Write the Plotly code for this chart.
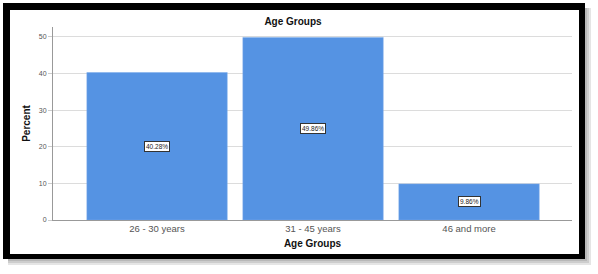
import plotly.graph_objects as go

categories = ["26 - 30 years", "31 - 45 years", "46 and more"]
percent = [40.28, 49.86, 9.86]
labels = ["40.28%", "49.86%", "9.86%"]
y_ticks = [0, 10, 20, 30, 40, 50]

W, H = 598, 274
ML, MR, MT, MB = 53, 26, 27, 54
PW, PH = W - ML - MR, H - MT - MB

def px(x):
    return (x - ML) / PW

def py(y):
    return 1 - (y - MT) / PH

fig = go.Figure()
fig.add_trace(go.Bar(
    x=list(range(len(categories))), y=percent,
    marker=dict(color="#5593E3", line=dict(color="#7aaaea", width=0.5)),
    width=0.9, hoverinfo="skip",
))

for i, (v, t) in enumerate(zip(percent, labels)):
    fig.add_annotation(x=i, y=v / 2, text=t, showarrow=False,
                       font=dict(size=6.5, color="#222", family="Liberation Sans"),
                       bgcolor="white", bordercolor="#333", borderwidth=1, borderpad=1)

# frame + shadow
shapes = []
def rect(x0, y0, x1, y1, color):
    shapes.append(dict(type="rect", xref="paper", yref="paper",
                       x0=px(x0), x1=px(x1), y0=py(y1), y1=py(y0),
                       fillcolor=color, line=dict(width=0), layer="above"))
# shadow
for k in range(3):
    d = k + 1
    rect(8, 259, 585 + d * 2, 259 + d * 2, "rgba(0,0,0,0.10)")
    rect(585, 8, 585 + d * 2, 259, "rgba(0,0,0,0.10)")
rect(3, 3, 585, 10, "black")
rect(3, 254, 585, 259, "black")
rect(3, 3, 10, 259, "black")
rect(579, 3, 585, 259, "black")

fig.update_layout(
    width=W, height=H,
    margin=dict(l=ML, r=MR, t=MT, b=MB, autoexpand=False),
    paper_bgcolor="white", plot_bgcolor="white",
    font=dict(family="Liberation Sans"),
    showlegend=False,
    shapes=shapes,
    title=dict(text="<b>Age Groups</b>", x=293 / W, xanchor="center",
               y=1 - 21 / H, yanchor="middle",
               font=dict(size=10, color="#111")),
    xaxis=dict(range=[-0.667, 2.66], tickmode="array",
               tickvals=list(range(len(categories))), ticktext=categories,
               showgrid=False, showline=True, linecolor="#999", linewidth=1,
               ticks="", tickfont=dict(size=9.5, color="#555"),
               title=dict(text="<b>Age Groups</b>", font=dict(size=10, color="#111"),
                          standoff=6),
               automargin=False,
               zeroline=False, fixedrange=True),
    yaxis=dict(range=[0, 52.7], tickmode="array", tickvals=y_ticks,
               showgrid=True, gridcolor="#dcdcdc", gridwidth=1,
               showline=True, linecolor="#999", linewidth=1,
               ticks="outside", ticklen=4, tickcolor="#ccc",
               tickfont=dict(size=7, color="#555"),
               title=dict(text="<b>Percent</b>", font=dict(size=10, color="#111"),
                          standoff=6),
               automargin=False,
               zeroline=False, fixedrange=True),
)
fig.write_html("out.html", config={"displayModeBar": False},
               post_script="document.body.style.margin='0';document.body.style.overflow='hidden';")
